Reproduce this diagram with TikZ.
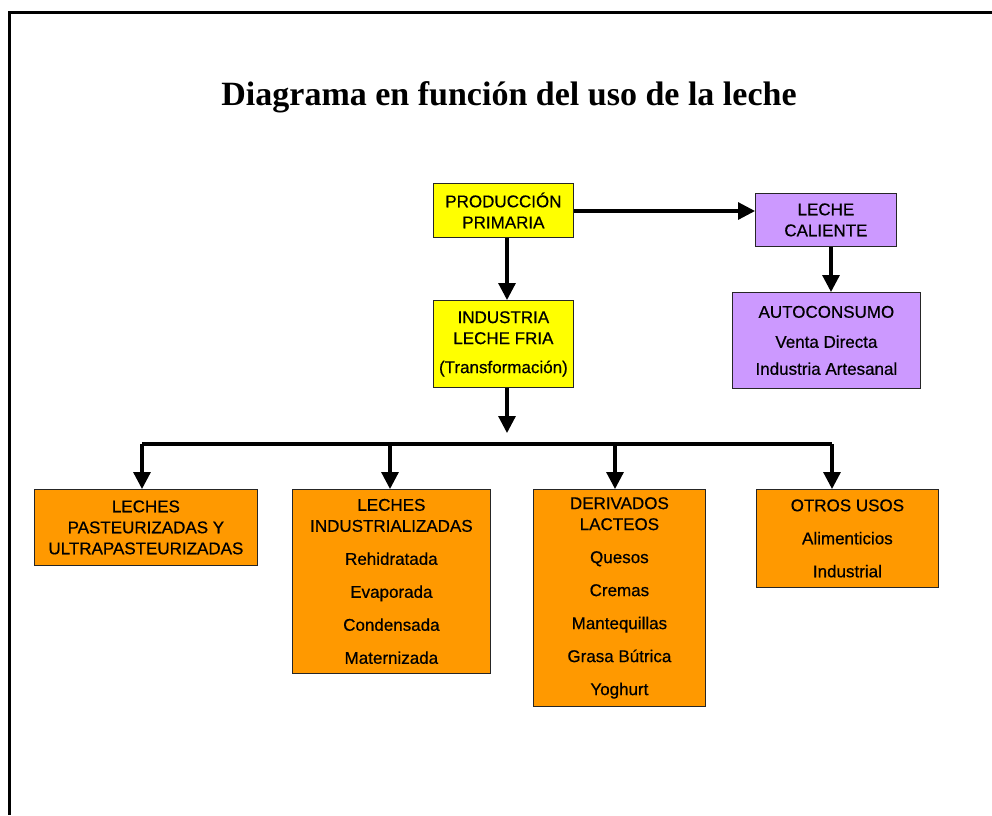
\documentclass[tikz,border=0pt]{standalone}
\usepackage{fontspec}
\setmainfont{Liberation Sans}
\newfontfamily\boxfont{Liberation Sans}[FakeBold=0.5]
\newfontfamily\titlefont{Liberation Serif}
\usetikzlibrary{arrows.meta}

\definecolor{prodyellow}{HTML}{FFFF00}
\definecolor{hotlilac}{HTML}{CC99FF}
\definecolor{useorange}{HTML}{FF9900}

\tikzset{
  box/.style={draw=black!85, line width=0.8pt, inner sep=0pt, align=center,
    font=\boxfont\fontsize{17}{21}\selectfont, anchor=north west},
  flow/.style={line width=3.2pt, -{Triangle[width=17pt,length=17pt]}},
  rail/.style={line width=3.2pt},
  frame/.style={line width=3pt},
}

\begin{document}
\begin{tikzpicture}[x=1pt,y=1pt]
\useasboundingbox (0,0) rectangle (992,-815);

% page frame (top and left edges)
\draw[frame] (992,-12) -- (9,-12) -- (9,-815);

% title
\node[anchor=base, font=\titlefont\bfseries\fontsize{34}{40}\selectfont] (title) at (509,-105)
  {Diagrama en función del uso de la leche};

% upper level
\node[box, fill=prodyellow, minimum width=140, minimum height=54] (prod) at (433,-183)
  {PRODUCCIÓN\\PRIMARIA};
\node[box, fill=hotlilac, minimum width=141, minimum height=53] (hot) at (755,-193)
  {LECHE\\CALIENTE};
\node[box, fill=prodyellow, minimum width=140, minimum height=87] (cold) at (433,-300)
  {INDUSTRIA\\LECHE FRIA\\[8pt](Transformación)};
\node[box, fill=hotlilac, minimum width=188, minimum height=96] (auto) at (732,-292)
  {AUTOCONSUMO\\[9pt]Venta Directa\\[6pt]Industria Artesanal};

% lower level
\node[box, fill=useorange, minimum width=223, minimum height=76] (past) at (34,-489)
  {LECHES\\PASTEURIZADAS Y\\ULTRAPASTEURIZADAS};
\node[box, fill=useorange, minimum width=198, minimum height=184] (indl) at (292,-489)
  {LECHES\\INDUSTRIALIZADAS\\[12pt]Rehidratada\\[12pt]Evaporada\\[12pt]Condensada\\[12pt]Maternizada};
\node[box, fill=useorange, minimum width=172, minimum height=217] (deriv) at (533,-489)
  {DERIVADOS\\LACTEOS\\[12pt]Quesos\\[12pt]Cremas\\[12pt]Mantequillas\\[12pt]Grasa Bútrica\\[12pt]Yoghurt};
\node[box, fill=useorange, minimum width=182, minimum height=98] (otros) at (756,-489)
  {OTROS USOS\\[12pt]Alimenticios\\[12pt]Industrial};

% connectors
\draw[flow] (prod.east |- 0,-211) -- (hot.west |- 0,-211);
\draw[flow] (prod.south -| 507,0) -- (cold.north -| 507,0);
\draw[flow] (hot.south -| 831,0) -- (auto.north -| 831,0);

\coordinate (split) at (507,-433);
\coordinate (railL) at (142,-444);
\coordinate (railR) at (832,-444);
\draw[flow] (cold.south -| 507,0) -- (split);
\draw[rail] (railL) -- (railR);
\draw[flow] (railL) -- (past.north -| railL);
\draw[flow] (390,-444) -- (indl.north -| 390,0);
\draw[flow] (615,-444) -- (deriv.north -| 615,0);
\draw[flow] (railR) -- (otros.north -| railR);
\end{tikzpicture}
\end{document}
